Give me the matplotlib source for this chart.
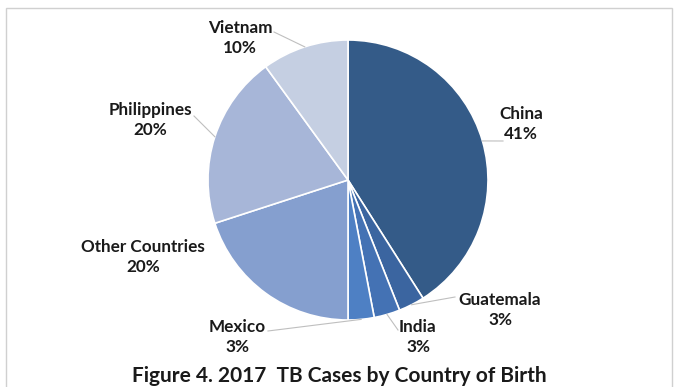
import numpy as np
import matplotlib.pyplot as plt
from matplotlib.patches import Rectangle

countries = ['China', 'Guatemala', 'India', 'Mexico', 'Other Countries', 'Philippines', 'Vietnam']
shares = [41, 3, 3, 3, 20, 20, 10]
colors = ['#345b88', '#3b65a0', '#4472b4', '#4e80c4', '#859fcf', '#a7b6d8', '#c5cfe2']

# label centres in pixels (x, y from top), leader end points in pixels
label_pos = [(521, 124), (500, 310), (418, 337), (237, 337), (143, 257), (150, 120), (240, 38)]
leader_end = [(503, 141), (455, 297), (398, 330), (268, 331), None, (194, 116), (274, 32)]

W, H = 678, 387
CX, CY, R = 348, 180, 140

plt.rcParams['font.family'] = ['Lato', 'DejaVu Sans']

fig = plt.figure(figsize=(W / 100, H / 100), dpi=100)
fig.patches.append(Rectangle((6 / W, -0.1), 666 / W, 1.1 - 8 / H, transform=fig.transFigure,
                             fill=False, edgecolor='#d0d0d0', linewidth=1))

ax = fig.add_axes([(CX - R) / W, (H - CY - R) / H, 2 * R / W, 2 * R / H])
wedges, _ = ax.pie(shares, colors=colors, startangle=90, counterclock=False,
                   wedgeprops=dict(edgecolor='white', linewidth=1.2))
ax.set_xlim(-1, 1)
ax.set_ylim(-1, 1)
ax.set_aspect('equal')
ax.axis('off')


def to_fig(px, py):
    return px / W, 1 - py / H


for w, name, val, lp, le in zip(wedges, countries, shares, label_pos, leader_end):
    fig.text(*to_fig(*lp), f'{name}\n{val}%', ha='center', va='center',
             fontsize=12.3, fontweight='bold', color='#1a1a1a', linespacing=1.25)
    if le is None:
        continue
    mid = np.deg2rad((w.theta1 + w.theta2) / 2)
    sx, sy = CX + R * np.cos(mid), CY - R * np.sin(mid)
    ex, ey = le
    fig.add_artist(plt.Line2D([sx / W, ex / W], [1 - sy / H, 1 - ey / H],
                              color='#bfbfbf', linewidth=0.8, transform=fig.transFigure))

fig.text(*to_fig(339, 376), 'Figure 4. 2017  TB Cases by Country of Birth', ha='center', va='center',
         fontsize=15, fontweight='bold', color='#1a1a1a')

fig.savefig('out.png', dpi=100)
